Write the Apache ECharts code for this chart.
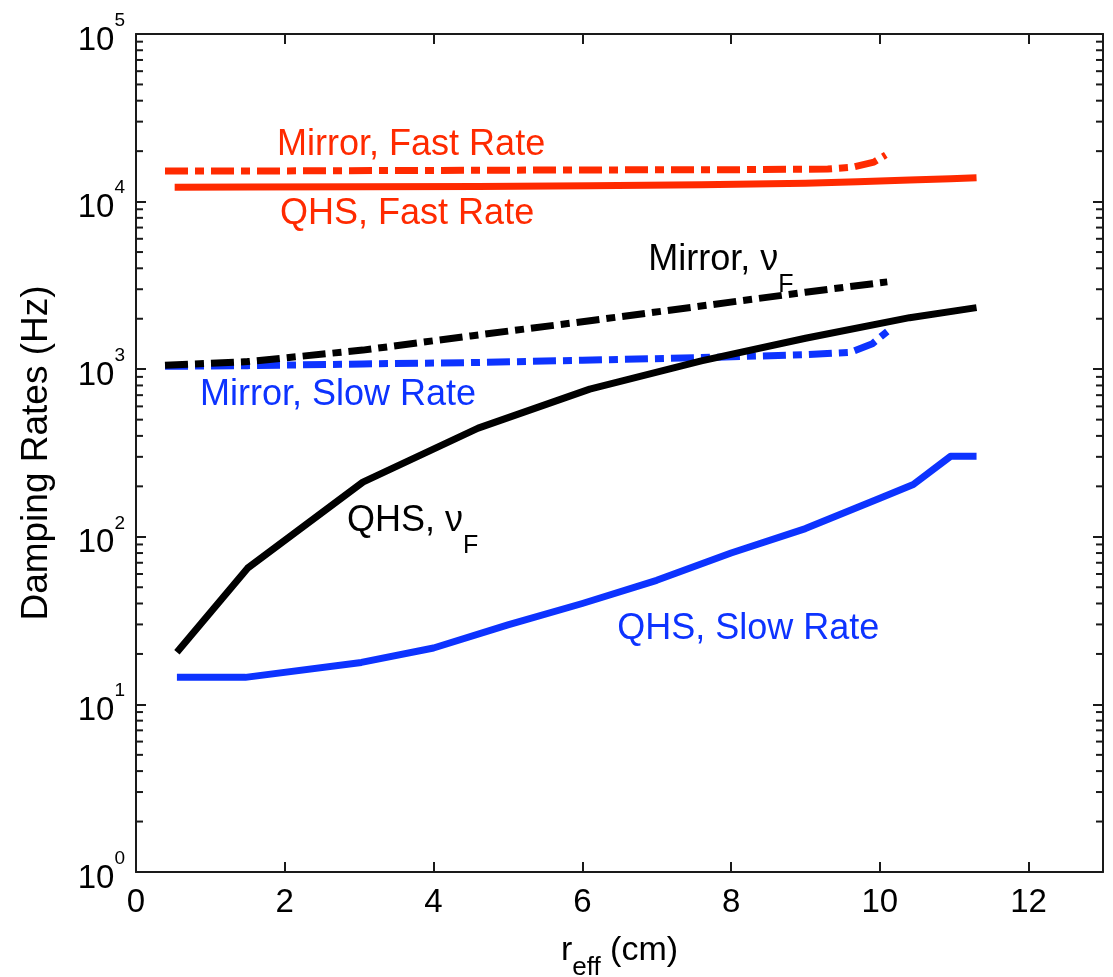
<!DOCTYPE html>
<html>
<head>
<meta charset="utf-8">
<script src="https://cdn.jsdelivr.net/npm/echarts@6/dist/echarts.min.js"></script>
<style>
  html, body { margin: 0; padding: 0; background: #ffffff; }
  #chart { width: 1113px; height: 977px; }
</style>
</head>
<body>
<div id="chart"></div>
<script>
// Damping rates versus effective radius, QHS and Mirror configurations

// QHS, fast rate
const qhsFastR  = [0.52, 1.5, 3.05, 4.6, 6.1, 7.6, 9.0, 9.7, 10.4, 10.95, 11.3];
const qhsFastHz = [12200, 12220, 12260, 12320, 12450, 12620, 12850, 13150, 13450, 13700, 13900];

// Mirror, fast rate
const mirrorFastR  = [0.39, 2.0, 4.0, 6.0, 8.0, 9.3, 9.64, 9.92, 10.08];
const mirrorFastHz = [15200, 15250, 15350, 15450, 15500, 15650, 16070, 17200, 19000];

// QHS, nu_F
const qhsNuR  = [0.55, 1.5, 3.05, 4.6, 6.1, 7.6, 9.0, 10.4, 11.3];
const qhsNuHz = [20.5, 65, 212, 445, 760, 1120, 1530, 2030, 2330];

// Mirror, nu_F
const mirrorNuR  = [0.39, 1.5, 3.05, 4.5, 6.0, 7.5, 9.0, 10.1];
const mirrorNuHz = [1055, 1110, 1300, 1580, 1920, 2350, 2880, 3320];

// QHS, slow rate
const qhsSlowR  = [0.55, 1.47, 3.03, 4.0, 5.0, 6.0, 7.0, 8.0, 9.0, 10.0, 10.45, 10.95, 11.3];
const qhsSlowHz = [14.5, 14.5, 17.8, 21.7, 29.8, 40, 55, 80, 112, 170, 205, 302, 302];

// Mirror, slow rate
const mirrorSlowR  = [0.39, 1.5, 3.05, 4.5, 6.0, 7.5, 9.0, 9.6, 9.9, 10.1];
const mirrorSlowHz = [1040, 1050, 1075, 1095, 1130, 1170, 1220, 1260, 1420, 1680];

// x-axis ticks and log minor ticks
const xTickStep = 2;
const minorMultipliers = [2, 3, 4, 5, 6, 7, 8, 9];
const decadeStarts = [1, 10, 100, 1000, 10000];

// Curve annotations: text, anchor (r, Hz) at the left edge / vertical centre
const annotations = [
  { text: 'Mirror, Fast Rate', r: 1.897, hz: 21640, color: 'red' },
  { text: 'QHS, Fast Rate',    r: 1.937, hz: 8395,  color: 'red' },
  { text: 'Mirror, ν', sub: 'F', r: 6.888, hz: 4466, color: 'black' },
  { text: 'Mirror, Slow Rate', r: 0.861, hz: 700,   color: 'blue' },
  { text: 'QHS, ν', sub: 'F',    r: 2.835, hz: 123.3, color: 'black' },
  { text: 'QHS, Slow Rate',    r: 6.47,  hz: 28.2,  color: 'blue' }
];

const RED = '#ff2a00';
const BLUE = '#0d33ff';
const BLACK = '#000000';
const COLORS = { red: RED, blue: BLUE, black: BLACK };
const AXIS = '#1a1a1a';
const FONT = '"Liberation Sans", Arial, Helvetica, sans-serif';
const DASH_DOT = [23, 7, 9, 7];
const LABEL_SIZE = 36;

const minorTickValues = [];
decadeStarts.forEach(d => minorMultipliers.forEach(m => minorTickValues.push(m * d)));

const zip = (xs, ys) => xs.map((x, i) => [x, ys[i]]);

function lineSeries(name, xs, ys, color, dashed) {
  return {
    name: name,
    type: 'line',
    data: zip(xs, ys),
    showSymbol: false,
    symbol: 'none',
    smooth: false,
    clip: true,
    lineStyle: {
      color: color,
      width: 7,
      type: dashed ? DASH_DOT : 'solid',
      cap: 'butt',
      join: 'round'
    },
    z: 2
  };
}

const tickStyle = { inside: true, length: 10, lineStyle: { color: AXIS, width: 2 } };
const lineStyleAxis = { show: true, onZero: false, lineStyle: { color: AXIS, width: 2 } };

const option = {
  animation: false,
  backgroundColor: '#ffffff',
  textStyle: { fontFamily: FONT },
  grid: {
    left: 136, top: 34, right: 10, bottom: 105,
    containLabel: false, outerBoundsMode: 'none'
  },
  xAxis: [
    {
      type: 'value', position: 'bottom', min: 0, max: 13, interval: xTickStep,
      axisLine: lineStyleAxis, axisTick: tickStyle, splitLine: { show: false },
      axisLabel: {
        show: true, showMaxLabel: false, margin: 14,
        fontSize: 33, color: '#000', fontFamily: FONT
      },
      name: '{a|r}{b|eff}{a| (cm)}',
      nameLocation: 'middle',
      nameGap: 62,
      nameTextStyle: {
        color: '#000', fontFamily: FONT, verticalAlign: 'top',
        rich: {
          a: { fontSize: 34, lineHeight: 34, verticalAlign: 'top', color: '#000', fontFamily: FONT },
          b: { fontSize: 26, lineHeight: 47, verticalAlign: 'bottom', color: '#000', fontFamily: FONT }
        }
      }
    },
    {
      type: 'value', position: 'top', min: 0, max: 13, interval: xTickStep,
      axisLine: lineStyleAxis, axisTick: tickStyle, splitLine: { show: false },
      axisLabel: { show: false }
    }
  ],
  yAxis: [
    {
      type: 'log', logBase: 10, position: 'left', min: 1, max: 100000,
      axisLine: lineStyleAxis, axisTick: tickStyle, splitLine: { show: false },
      minorTick: { show: false },
      axisLabel: {
        margin: 11,
        formatter: v => '{b|10}{e|' + Math.round(Math.log10(v)) + '}',
        rich: {
          b: { fontSize: 33, lineHeight: 46, verticalAlign: 'bottom', color: '#000', fontFamily: FONT },
          e: { fontSize: 19, lineHeight: 19, verticalAlign: 'top', color: '#000', fontFamily: FONT }
        }
      },
      name: 'Damping Rates (Hz)',
      nameLocation: 'middle',
      nameGap: 81,
      nameTextStyle: { fontSize: 37, color: '#000', fontFamily: FONT }
    },
    {
      type: 'log', logBase: 10, position: 'right', min: 1, max: 100000,
      axisLine: lineStyleAxis, axisTick: tickStyle, splitLine: { show: false },
      axisLabel: { show: false }
    }
  ],
  series: [
    lineSeries('QHS, Slow Rate', qhsSlowR, qhsSlowHz, BLUE, false),
    lineSeries('Mirror, Slow Rate', mirrorSlowR, mirrorSlowHz, BLUE, true),
    lineSeries('QHS, νF', qhsNuR, qhsNuHz, BLACK, false),
    lineSeries('Mirror, νF', mirrorNuR, mirrorNuHz, BLACK, true),
    lineSeries('QHS, Fast Rate', qhsFastR, qhsFastHz, RED, false),
    lineSeries('Mirror, Fast Rate', mirrorFastR, mirrorFastHz, RED, true),
    {
      // log minor ticks on the left and right frame edges
      type: 'custom',
      silent: true,
      clip: false,
      z: 5,
      data: minorTickValues.map(v => [0, v]),
      encode: { x: 0, y: 1 },
      renderItem: function (params, api) {
        const cs = params.coordSys;
        const y = api.coord([0, api.value(1)])[1];
        return {
          type: 'group',
          children: [
            { type: 'line', shape: { x1: cs.x, y1: y, x2: cs.x + 7, y2: y }, style: { stroke: AXIS, lineWidth: 2 } },
            { type: 'line', shape: { x1: cs.x + cs.width, y1: y, x2: cs.x + cs.width - 7, y2: y }, style: { stroke: AXIS, lineWidth: 2 } }
          ]
        };
      }
    }
  ]
};

const chart = echarts.init(document.getElementById('chart'), null, { renderer: 'canvas' });
chart.setOption(option);

// Curve annotations placed from data coordinates
const half = LABEL_SIZE / 2;
const graphics = annotations.map(a => {
  const p = chart.convertToPixel({ xAxisIndex: 0, yAxisIndex: 0 }, [a.r, a.hz]);
  const color = COLORS[a.color];
  if (a.sub) {
    return {
      type: 'text', x: p[0], y: p[1] - half, z: 10,
      style: {
        text: '{m|' + a.text + '}{s|' + a.sub + '}',
        align: 'left', verticalAlign: 'top',
        rich: {
          m: { fontSize: LABEL_SIZE, lineHeight: LABEL_SIZE, verticalAlign: 'top', fill: color, fontFamily: FONT },
          s: { fontSize: 25, lineHeight: 55, verticalAlign: 'bottom', fill: color, fontFamily: FONT }
        }
      }
    };
  }
  return {
    type: 'text', x: p[0], y: p[1], z: 10,
    style: {
      text: a.text, fill: color, font: LABEL_SIZE + 'px ' + FONT,
      align: 'left', verticalAlign: 'middle'
    }
  };
});
chart.setOption({ graphic: graphics });
</script>
</body>
</html>
